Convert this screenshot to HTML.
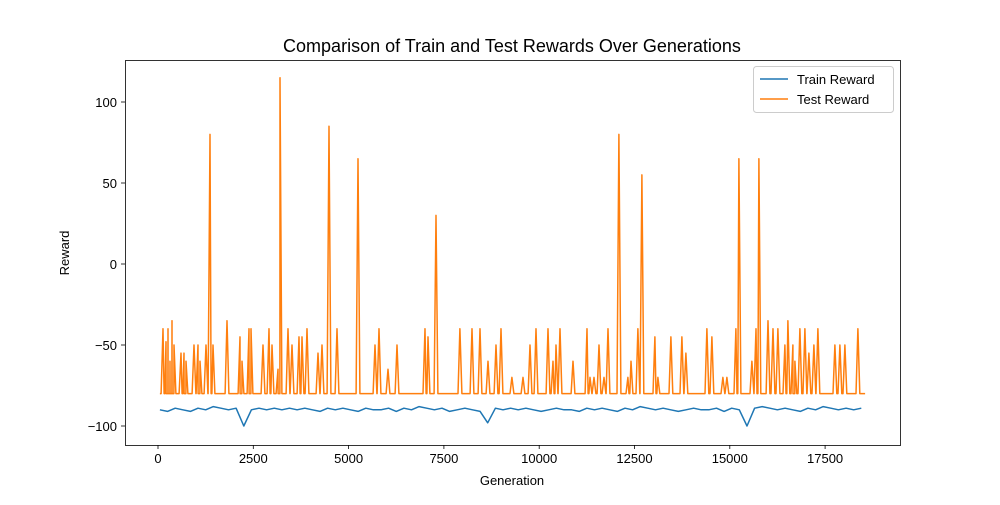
<!DOCTYPE html>
<html><head><meta charset="utf-8"><style>
body{margin:0;background:#fff;font-family:"Liberation Sans","DejaVu Sans",sans-serif;}
</style></head><body>
<svg id="chart" width="1000" height="500" viewBox="0 0 1000 500" xmlns="http://www.w3.org/2000/svg">
<rect width="1000" height="500" fill="#fff"/>
<text x="512" y="52" text-anchor="middle" font-size="18" fill="#000">Comparison of Train and Test Rewards Over Generations</text>
<g id="plot"></g>
<text x="512" y="485" text-anchor="middle" font-size="13">Generation</text>
<text x="69" y="253" text-anchor="middle" font-size="13" transform="rotate(-90 69 253)">Reward</text>
<g>
<rect x="753.5" y="66.5" width="140" height="46" rx="3" fill="#fff" fill-opacity="0.8" stroke="#ccc"/>
<line x1="760" y1="79" x2="788" y2="79" stroke="#1f77b4" stroke-width="1.5"/>
<text x="797" y="84" font-size="13">Train Reward</text>
<line x1="760" y1="99" x2="788" y2="99" stroke="#ff7f0e" stroke-width="1.5"/>
<text x="797" y="104" font-size="13">Test Reward</text>
</g>
</svg>
<script>
const xTicks=[0,2500,5000,7500,10000,12500,15000,17500];
const xTickLabels=["0","2500","5000","7500","10000","12500","15000","17500"];
const yTicks=[-100,-50,0,50,100];
const yTickLabels=["\u2212100","\u221250","0","50","100"];
const testBaseline=-80;
const testPeakGen=[131,210,262,315,367,420,603,682,734,944,1049,1102,1259,1364,1443,1810,2151,2203,2387,2439,2754,2912,2990,3148,3200,3410,3515,3698,3777,3908,4197,4302,4485,4695,5246,5692,5797,6033,6269,7003,7082,7292,7921,8236,8446,8656,8866,8997,9285,9574,9758,9915,10230,10361,10440,10545,10886,11253,11332,11437,11568,11699,11804,12092,12328,12407,12590,12695,13036,13115,13456,13744,13849,14400,14531,14820,14925,15161,15240,15581,15686,15764,16001,16132,16263,16446,16525,16656,16708,16840,16971,17076,17207,17312,17758,17889,18020,18361];
const testPeakVal=[-40,-48,-40,-60,-35,-50,-55,-55,-60,-50,-50,-60,-50,80,-50,-35,-45,-60,-40,-40,-50,-40,-50,-65,115,-40,-50,-45,-45,-40,-55,-50,85,-40,65,-50,-40,-65,-50,-40,-45,30,-40,-40,-40,-60,-50,-40,-70,-70,-50,-40,-40,-60,-50,-40,-60,-40,-70,-70,-50,-70,-40,80,-70,-60,-40,55,-45,-70,-45,-45,-55,-40,-45,-70,-70,-40,65,-60,-40,65,-35,-40,-40,-50,-35,-50,-60,-40,-40,-55,-50,-40,-50,-50,-50,-40];
const testStart=50, testEnd=18550;
const trainGen0=50, trainStep=200;
const trainVal=[-90,-91,-89,-90,-91,-89,-90,-88,-89,-90,-89,-100,-90,-89,-90,-89,-90,-89,-90,-89,-90,-91,-89,-90,-89,-90,-91,-89,-90,-90,-89,-91,-89,-90,-88,-89,-90,-89,-91,-90,-89,-90,-91,-98,-89,-90,-89,-90,-89,-90,-91,-90,-89,-90,-90,-91,-89,-90,-89,-90,-91,-89,-90,-88,-89,-90,-89,-90,-91,-90,-89,-90,-90,-89,-91,-89,-90,-100,-89,-88,-89,-90,-89,-90,-91,-89,-90,-88,-89,-90,-89,-90,-89];
const L=125,R=900,T=60,B=445;
const xs=g=>158+(g/2500)*95.3;
const ys=v=>264-v*1.62;
const NS='http://www.w3.org/2000/svg';
const plot=document.getElementById('plot');
function mk(tag,attrs){const e=document.createElementNS(NS,tag);for(const k in attrs)e.setAttribute(k,attrs[k]);plot.appendChild(e);return e;}
let pts=[[testStart,testBaseline]];
for(let i=0;i<testPeakGen.length;i++){pts.push([testPeakGen[i]-50,testBaseline]);pts.push([testPeakGen[i],testPeakVal[i]]);pts.push([testPeakGen[i]+50,testBaseline]);}
pts.push([testEnd,testBaseline]);
pts.sort((a,b)=>a[0]-b[0]);
const tl=mk('polyline',{points:pts.map(p=>xs(p[0]).toFixed(1)+','+ys(p[1]).toFixed(1)).join(' '),fill:'none',stroke:'#ff7f0e','stroke-width':1.5,'stroke-linejoin':'round'});


const tr=mk('polyline',{points:trainVal.map((v,i)=>xs(trainGen0+i*trainStep).toFixed(1)+','+ys(v).toFixed(1)).join(' '),fill:'none',stroke:'#1f77b4','stroke-width':1.5,'stroke-linejoin':'round'});


const frame=mk('rect',{x:L+0.5,y:T+0.5,width:R-L,height:B-T,fill:'none',stroke:'#000','stroke-width':0.8});


xTicks.forEach((t,i)=>{const x=xs(t);
 const tk=mk('line',{x1:x,y1:B,x2:x,y2:B+4,stroke:'#000','stroke-width':0.8});
 
 
 const lb=mk('text',{x:x,y:B+18,'text-anchor':'middle','font-size':13});lb.textContent=xTickLabels[i];
 
 });
yTicks.forEach((t,i)=>{const y=ys(t);
 const tk=mk('line',{x1:L-4,y1:y,x2:L,y2:y,stroke:'#000','stroke-width':0.8});
 
 
 const lb=mk('text',{x:L-8,y:y+5,'text-anchor':'end','font-size':13});lb.textContent=yTickLabels[i];
 
 });
</script>
</body></html>
